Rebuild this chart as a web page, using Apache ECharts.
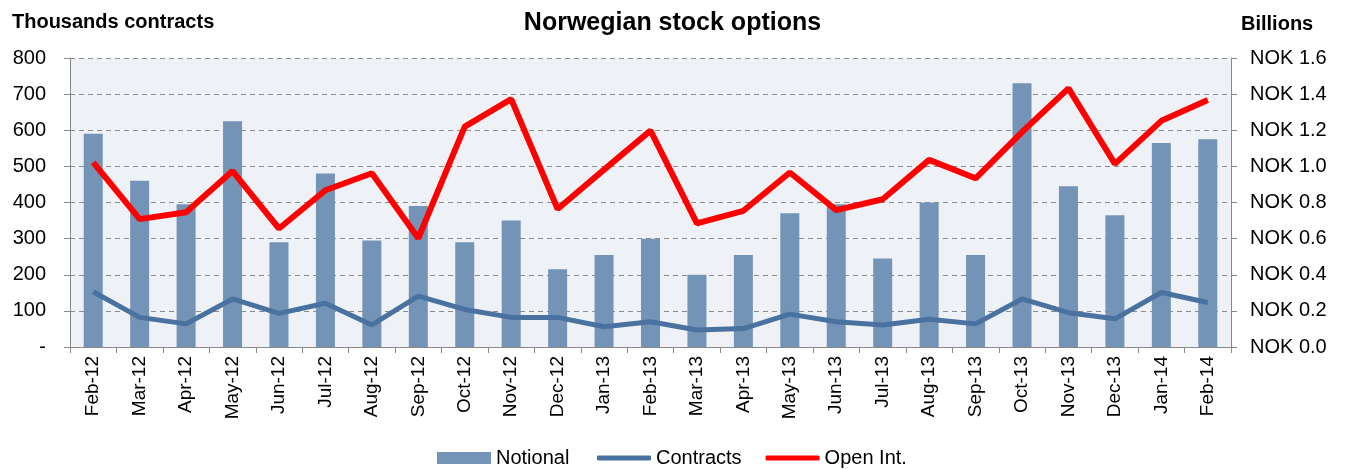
<!DOCTYPE html>
<html>
<head>
<meta charset="utf-8">
<title>Norwegian stock options</title>
<style>
  html, body { margin: 0; padding: 0; background: #fff; }
  #chart { width: 1345px; height: 469px; }
</style>
</head>
<body>
<div id="chart"></div>
<script src="https://cdn.jsdelivr.net/npm/echarts@6/dist/echarts.min.js"></script>
<script>
// months
var months = ["Feb-12", "Mar-12", "Apr-12", "May-12", "Jun-12", "Jul-12", "Aug-12", "Sep-12",
  "Oct-12", "Nov-12", "Dec-12", "Jan-13", "Feb-13", "Mar-13", "Apr-13", "May-13", "Jun-13",
  "Jul-13", "Aug-13", "Sep-13", "Oct-13", "Nov-13", "Dec-13", "Jan-14", "Feb-14"];
// notional, NOK billions (right axis)
var notional = [1.18, 0.92, 0.79, 1.25, 0.58, 0.96, 0.59, 0.78,
  0.58, 0.70, 0.43, 0.51, 0.60, 0.40, 0.51, 0.74, 0.79,
  0.49, 0.80, 0.51, 1.46, 0.89, 0.73, 1.13, 1.15];
// contracts, thousands (left axis)
var contracts = [153, 82, 64, 133, 93, 121, 61, 141,
  104, 82, 82, 56, 70, 47, 51, 91, 70,
  61, 77, 64, 133, 95, 78, 151, 123];
// open interest, thousands contracts (left axis)
var openInt = [511, 354, 373, 487, 328, 434, 481, 301,
  610, 686, 382, 491, 599, 342, 377, 483, 379,
  409, 518, 467, 595, 716, 507, 626, 684];

var leftTicks = { min: 0, max: 800, step: 100 };
var rightTicks = { min: 0, max: 1.6, step: 0.2 };

var font = "Liberation Sans, Arial, sans-serif";
var chart = echarts.init(document.getElementById("chart"));

var legendText = { fontSize: 20, color: "#000", fontFamily: font };

var option = {
  animation: false,
  textStyle: { fontFamily: font },
  title: [
    { text: "Norwegian stock options", left: "center", top: 6,
      textStyle: { fontSize: 25, fontWeight: "bold", color: "#000", fontFamily: font } },
    { text: "Thousands contracts", left: 7, top: 7,
      textStyle: { fontSize: 20, fontWeight: "bold", color: "#000", fontFamily: font } },
    { text: "Billions", left: 1236, top: 9,
      textStyle: { fontSize: 20, fontWeight: "bold", color: "#000", fontFamily: font } }
  ],
  legend: [
    {
      left: 432, top: 443,
      itemWidth: 54, itemHeight: 12,
      icon: "rect",
      textStyle: legendText,
      data: ["Notional"]
    },
    {
      left: 592, top: 443,
      itemWidth: 54, itemHeight: 5,
      itemGap: 24,
      icon: "roundRect",
      textStyle: legendText,
      data: ["Contracts", "Open Int."]
    }
  ],
  grid: {
    left: 70, right: 114, top: 58, bottom: 122,
    show: true, backgroundColor: "#eef2f6", borderWidth: 0
  },
  xAxis: {
    type: "category",
    data: months,
    boundaryGap: true,
    axisLine: { lineStyle: { color: "#888", width: 1 } },
    axisTick: { show: true, alignWithLabel: false, length: 6, lineStyle: { color: "#888" } },
    axisLabel: { rotate: 90, fontSize: 19, color: "#000", margin: 9, fontFamily: font }
  },
  yAxis: [
    {
      type: "value",
      min: leftTicks.min, max: leftTicks.max, interval: leftTicks.step,
      axisLine: { show: true, lineStyle: { color: "#888" } },
      axisTick: { show: true, length: 6, lineStyle: { color: "#888" } },
      axisLabel: {
        fontSize: 20, color: "#000", margin: 24, fontFamily: font,
        formatter: function (v) { return v === 0 ? "-" : String(v); }
      },
      splitLine: { show: true, lineStyle: { color: "#8c8c8c", type: [5, 4], width: 1.2 } }
    },
    {
      type: "value",
      min: rightTicks.min, max: rightTicks.max, interval: rightTicks.step,
      position: "right",
      axisLine: { show: true, lineStyle: { color: "#888" } },
      axisTick: { show: true, length: 6, lineStyle: { color: "#888" } },
      axisLabel: {
        fontSize: 20, color: "#000", margin: 19, fontFamily: font,
        formatter: function (v) { return "NOK " + v.toFixed(1); }
      },
      splitLine: { show: false }
    }
  ],
  series: [
    {
      name: "Notional",
      type: "bar",
      yAxisIndex: 1,
      data: notional,
      barWidth: 19,
      itemStyle: { color: "#7393b7" }
    },
    {
      name: "Contracts",
      type: "line",
      yAxisIndex: 0,
      data: contracts,
      symbol: "none",
      lineStyle: { color: "#4a72a0", width: 5 },
      itemStyle: { color: "#4a72a0" }
    },
    {
      name: "Open Int.",
      type: "line",
      yAxisIndex: 0,
      data: openInt,
      symbol: "none",
      lineStyle: { color: "#ff0000", width: 6 },
      itemStyle: { color: "#ff0000" }
    }
  ]
};

chart.setOption(option);
window.addEventListener("resize", chart.resize);
</script>
</body>
</html>
